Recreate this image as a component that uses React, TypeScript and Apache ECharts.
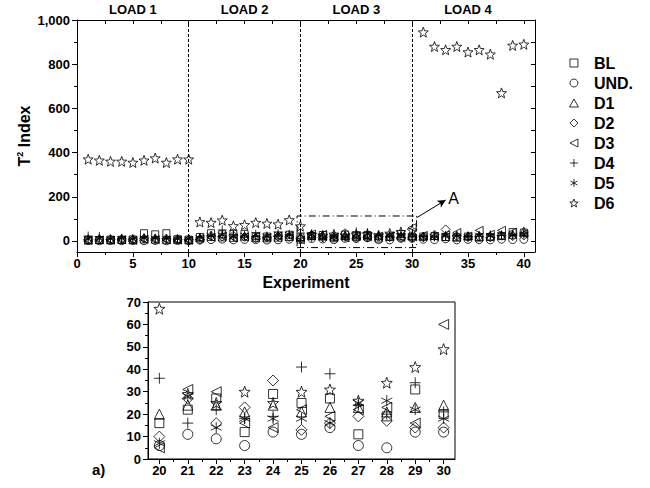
import React, { useEffect, useRef } from 'react';
import * as echarts from 'echarts';

const experiments = [1, 2, 3, 4, 5, 6, 7, 8, 9, 10, 11, 12, 13, 14, 15, 16, 17, 18, 19, 20, 21, 22, 23, 24, 25, 26, 27, 28, 29, 30, 31, 32, 33, 34, 35, 36, 37, 38, 39, 40];
const zoomExperiments = [20, 21, 22, 23, 24, 25, 26, 27, 28, 29, 30];

const seriesNames = ['BL', 'UND.', 'D1', 'D2', 'D3', 'D4', 'D5', 'D6'];

const BL = [5, 4, 6, 5, 7, 35, 30, 35, 8, 6, 18, 35, 30, 33, 32, 22, 20, 25, 28, 16, 22, 27, 12, 29, 25, 27, 11, 19, 31, 20, 20, 22, 18, 16, 20, 15, 18, 22, 40, 38];
const UND = [2, 1, 2, 1, 2, 1, 2, 1, 2, 1, 4, 6, 8, 5, 7, 6, 4, 5, 8, 6, 11, 9, 6, 12, 11, 14, 6, 5, 12, 12, 8, 6, 10, 5, 7, 6, 5, 8, 6, 7];
const D1 = [4, 6, 5, 7, 5, 9, 8, 6, 7, 5, 14, 20, 18, 16, 22, 15, 14, 17, 20, 20, 24, 24, 21, 24, 21, 23, 23, 21, 23, 24, 22, 25, 20, 18, 24, 20, 22, 26, 30, 45];
const D2 = [6, 8, 7, 9, 6, 11, 9, 10, 8, 7, 6, 22, 20, 24, 18, 12, 16, 20, 18, 10, 27, 16, 23, 35, 13, 16, 19, 17, 14, 14, 18, 28, 52, 22, 18, 20, 16, 24, 22, 25];
const D3 = [3, 5, 4, 6, 3, 7, 6, 5, 4, 3, 12, 16, 22, 14, 18, 20, 15, 22, 25, 5, 31, 30, 16, 14, 22, 19, 22, 23, 16, 60, 25, 20, 28, 38, 22, 48, 30, 48, 40, 32];
const D4 = [22, 20, 9, 12, 10, 14, 12, 11, 9, 8, 16, 25, 50, 30, 22, 20, 18, 24, 28, 36, 16, 22, 18, 19, 41, 38, 24, 20, 34, 21, 20, 18, 22, 25, 20, 22, 28, 25, 30, 35];
const D5 = [8, 10, 9, 11, 8, 13, 12, 10, 9, 8, 15, 24, 28, 20, 26, 30, 22, 32, 30, 7, 28, 14, 18, 18, 18, 16, 25, 26, 22, 18, 16, 20, 25, 22, 18, 26, 24, 28, 25, 30];
const D6 = [370, 365, 360, 360, 355, 365, 375, 355, 370, 370, 86, 83, 94, 68, 73, 83, 79, 76, 95, 67, 29, 25, 30, 25, 30, 31, 26, 34, 41, 49, 945, 880, 865, 880, 855, 865, 845, 670, 885, 890];

const seriesValues = [BL, UND, D1, D2, D3, D4, D5, D6];

const xMajorTop = [0, 5, 10, 15, 20, 25, 30, 35, 40];
const xMinorTop = [2.5, 7.5, 12.5, 17.5, 22.5, 27.5, 32.5, 37.5];
const xAllTop = [0, 2.5, 5, 7.5, 10, 12.5, 15, 17.5, 20, 22.5, 25, 27.5, 30, 32.5, 35, 37.5, 40];
const yMajorTop = [0, 200, 400, 600, 800, 1000];
const yMinorTop = [100, 300, 500, 700, 900];
const yAllTop = [0, 100, 200, 300, 400, 500, 600, 700, 800, 900, 1000];
const loadCenters = [5, 15, 25, 35];
const loadLabels = ['LOAD 1', 'LOAD 2', 'LOAD 3', 'LOAD 4'];
const loadBoundaries = [10, 20, 30];
const xMinorZoom = [20.5, 21.5, 22.5, 23.5, 24.5, 25.5, 26.5, 27.5, 28.5, 29.5];

const STAR = 'path://M10 0L12.47 6.6L19.51 6.91L13.99 11.3L15.88 18.09L10 14.2L4.12 18.09L6.01 11.3L0.49 6.91L7.53 6.6Z';
const symbols = [
  'path://M0 0L10 0L10 10L0 10Z',
  'circle',
  'path://M5 0L10 9L0 9Z',
  'path://M5 0L10 5L5 10L0 5Z',
  'path://M10 0L0 5L10 10Z',
  'path://M5 0L5 10M0 5L10 5',
  'path://M5 0L5 10M0.67 2.5L9.33 7.5M0.67 7.5L9.33 2.5',
  STAR,
];
const topSizes = [7, 8, 8, 9, 8, 9, 9, 10];
const zoomSizes = [9, 10, 10, 11, 10, 11, 11, 11];

const FONT = '"Liberation Sans", Arial, sans-serif';
const BLACK = '#000';

export default function App() {
  const ref = useRef<HTMLDivElement>(null);
  useEffect(() => {
    const chart = echarts.init(ref.current as HTMLDivElement, null, { renderer: 'svg' });
    const itemStyle = { color: 'rgba(0,0,0,0)', borderColor: BLACK, borderWidth: 1 };
    const labelStyle = { color: BLACK, fontFamily: FONT, fontWeight: 'bold' as const, fontSize: 13 };
    const line = { lineStyle: { color: BLACK, width: 1 } };

    const topSeries = seriesNames.map((name, s) => {
      const base: any = {
        type: 'scatter',
        name,
        xAxisIndex: 0,
        yAxisIndex: 0,
        symbol: symbols[s],
        symbolSize: topSizes[s],
        itemStyle,
        data: experiments.map((e, i) => [e, seriesValues[s][i]]),
      };
      if (s === 0) {
        base.markLine = {
          silent: true,
          symbol: ['none', 'none'],
          label: { show: false },
          lineStyle: { color: BLACK, width: 1, type: [3, 2] },
          data: [
            ...loadBoundaries.map((b) => ({ xAxis: b })),
            [
              {
                coord: [30.4, 105],
                symbol: 'none',
                lineStyle: { type: 'solid', color: BLACK, width: 1 },
                label: {
                  show: true,
                  position: 'end',
                  formatter: 'A',
                  color: BLACK,
                  fontFamily: FONT,
                  fontSize: 16,
                  distance: 3,
                },
              },
              { coord: [33.0, 185], symbol: 'arrow', symbolSize: [6, 8] },
            ],
          ],
        };
        base.markArea = {
          silent: true,
          itemStyle: { color: 'rgba(0,0,0,0)', borderColor: BLACK, borderWidth: 1, borderType: [7, 3, 1, 3] },
          label: { show: false },
          data: [[{ coord: [19.7, -30] }, { coord: [30.4, 113] }]],
        };
      }
      return base;
    });

    const zoomSeries = seriesNames.map((name, s) => ({
      type: 'scatter',
      name,
      xAxisIndex: 4,
      yAxisIndex: 3,
      symbol: symbols[s],
      symbolSize: zoomSizes[s],
      itemStyle,
      data: zoomExperiments.map((e) => [e, seriesValues[s][experiments.indexOf(e)]]),
    }));

    const option: any = {
      animation: false,
      backgroundColor: '#fff',
      textStyle: { fontFamily: FONT },
      grid: [
        { left: 77, top: 20, width: 458, height: 232 },
        {
          left: 148,
          top: 302,
          width: 307,
          height: 157,
          show: true,
          borderColor: BLACK,
          borderWidth: 1,
          backgroundColor: 'rgba(0,0,0,0)',
        },
      ],
      legend: {
        orient: 'vertical',
        left: 564,
        top: 50,
        itemWidth: 30,
        itemHeight: 8,
        itemGap: 4,
        data: seriesNames,
        selectedMode: false,
        textStyle: { fontSize: 16, fontWeight: 'bold', color: BLACK, fontFamily: FONT, lineHeight: 16 },
        itemStyle: { borderWidth: 1, borderColor: 'inherit', color: 'inherit' },
      },
      xAxis: [
        {
          gridIndex: 0,
          type: 'value',
          position: 'bottom',
          min: 0,
          max: 41,
          axisLine: { onZero: false, ...line },
          axisTick: { customValues: xMajorTop, length: 5, ...line },
          axisLabel: { customValues: xMajorTop, margin: 5, ...labelStyle },
          splitLine: { show: false },
          name: 'Experiment',
          nameLocation: 'middle',
          nameGap: 22,
          nameMoveOverlap: false,
          nameTextStyle: { color: BLACK, fontFamily: FONT, fontWeight: 'bold', fontSize: 16 },
        },
        {
          gridIndex: 0,
          type: 'value',
          position: 'bottom',
          min: 0,
          max: 41,
          axisLine: { show: false, onZero: false },
          axisTick: { customValues: xMinorTop, length: 3, ...line },
          axisLabel: { show: false },
          splitLine: { show: false },
        },
        {
          gridIndex: 0,
          type: 'value',
          position: 'top',
          min: 0,
          max: 41,
          axisLine: { onZero: false, ...line },
          axisTick: { customValues: xAllTop, inside: true, length: 4, ...line },
          axisLabel: { show: false },
          splitLine: { show: false },
        },
        {
          gridIndex: 0,
          type: 'value',
          position: 'top',
          min: 0,
          max: 41,
          axisLine: { show: false, onZero: false },
          axisTick: { show: false },
          axisLabel: {
            customValues: loadCenters,
            margin: 4,
            formatter: (v: number) => loadLabels[loadCenters.indexOf(v)],
            ...labelStyle,
          },
          splitLine: { show: false },
        },
        {
          gridIndex: 1,
          type: 'value',
          position: 'bottom',
          min: 19.6,
          max: 30.4,
          axisLine: { onZero: false, ...line },
          axisTick: { customValues: zoomExperiments, length: 5, ...line },
          axisLabel: { customValues: zoomExperiments, margin: 5, ...labelStyle },
          splitLine: { show: false },
        },
        {
          gridIndex: 1,
          type: 'value',
          position: 'bottom',
          min: 19.6,
          max: 30.4,
          axisLine: { show: false, onZero: false },
          axisTick: { customValues: xMinorZoom, length: 3, ...line },
          axisLabel: { show: false },
          splitLine: { show: false },
        },
      ],
      yAxis: [
        {
          gridIndex: 0,
          type: 'value',
          position: 'left',
          min: -50,
          max: 1000,
          axisLine: { show: true, onZero: false, ...line },
          axisTick: { show: true, customValues: yMajorTop, length: 5, ...line },
          axisLabel: {
            customValues: yMajorTop,
            margin: 7,
            formatter: (v: number) => v.toLocaleString('en-US'),
            ...labelStyle,
          },
          splitLine: { show: false },
          name: '{t|T}{s|2}{t| Index}',
          nameLocation: 'middle',
          nameGap: 44,
          nameMoveOverlap: false,
          nameRotate: 90,
          nameTextStyle: {
            rich: {
              t: { fontFamily: FONT, fontWeight: 'bold', fontSize: 16, color: BLACK, lineHeight: 18 },
              s: { fontFamily: FONT, fontWeight: 'bold', fontSize: 9, color: BLACK, lineHeight: 18, verticalAlign: 'top' },
            },
          },
        },
        {
          gridIndex: 0,
          type: 'value',
          position: 'left',
          min: -50,
          max: 1000,
          axisLine: { show: false, onZero: false },
          axisTick: { show: true, customValues: yMinorTop, length: 3, ...line },
          axisLabel: { show: false },
          splitLine: { show: false },
        },
        {
          gridIndex: 0,
          type: 'value',
          position: 'right',
          min: -50,
          max: 1000,
          axisLine: { show: true, onZero: false, ...line },
          axisTick: { show: true, customValues: yAllTop, inside: true, length: 4, ...line },
          axisLabel: { show: false },
          splitLine: { show: false },
        },
        {
          gridIndex: 1,
          type: 'value',
          position: 'left',
          min: 0,
          max: 70,
          interval: 10,
          axisLine: { show: true, onZero: false, ...line },
          axisTick: { show: true, length: 5, ...line },
          minorTick: { show: true, splitNumber: 2, length: 3, ...line },
          axisLabel: { margin: 7, ...labelStyle },
          splitLine: { show: false },
        },
      ],
      graphic: [
        {
          type: 'text',
          left: 92,
          top: 462,
          style: { text: 'a)', font: `bold 15px ${FONT}`, fill: BLACK },
        },
      ],
      series: [...topSeries, ...zoomSeries],
    };
    chart.setOption(option);
    return () => chart.dispose();
  }, []);
  return <div ref={ref} style={{ position: 'fixed', left: 0, top: 0, width: 650, height: 488 }} />;
}
